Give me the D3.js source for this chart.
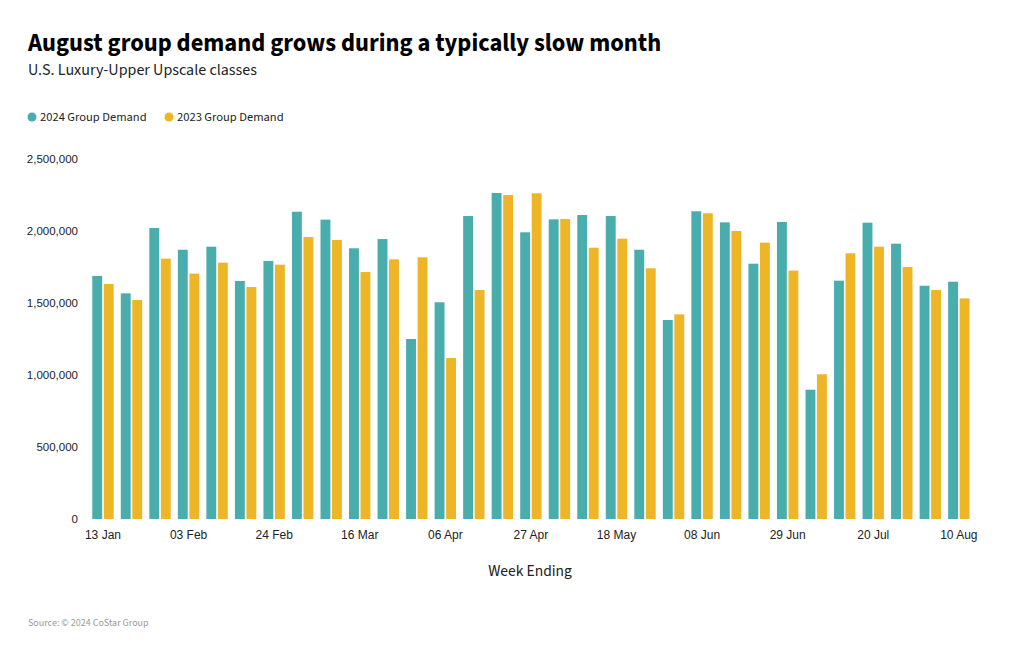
<!DOCTYPE html>
<html>
<head>
<meta charset="utf-8">
<script src="https://cdn.jsdelivr.net/npm/d3@7"></script>
<style>
  html, body { margin: 0; padding: 0; background: #fff; }
  svg { display: block; font-family: "Source Sans Pro", "Source Sans 3", Lato, "Open Sans", sans-serif; }
</style>
</head>
<body>
<svg id="chart" width="1020" height="650"></svg>
<script>
const weeks = ["13 Jan","20 Jan","27 Jan","03 Feb","10 Feb","17 Feb","24 Feb","02 Mar","09 Mar","16 Mar","23 Mar","30 Mar","06 Apr","13 Apr","20 Apr","27 Apr","04 May","11 May","18 May","25 May","01 Jun","08 Jun","15 Jun","22 Jun","29 Jun","06 Jul","13 Jul","20 Jul","27 Jul","03 Aug","10 Aug"];
const demand2024 = [1688000,1567000,2021000,1870000,1891000,1653000,1792000,2134000,2079000,1880000,1944000,1250000,1505000,2104000,2264000,1991000,2081000,2111000,2104000,1870000,1382000,2137000,2060000,1773000,2063000,898000,1655000,2058000,1912000,1620000,1648000];
const demand2023 = [1632000,1521000,1808000,1704000,1780000,1611000,1766000,1958000,1938000,1715000,1803000,1817000,1118000,1590000,2250000,2262000,2083000,1884000,1947000,1741000,1421000,2123000,2000000,1919000,1725000,1005000,1845000,1891000,1750000,1590000,1532000];
const seriesNames = ["2024 Group Demand","2023 Group Demand"];
const seriesColors = ["#4aadad","#eeb526"];
const yTicks = [0,500000,1000000,1500000,2000000,2500000];
const xTickLabels = ["13 Jan","03 Feb","24 Feb","16 Mar","06 Apr","27 Apr","18 May","08 Jun","29 Jun","20 Jul","10 Aug"];

const svg = d3.select("#chart");

svg.append("text").attr("x", 28).attr("y", 51)
  .attr("font-size", 24.5).attr("font-weight", 700).attr("fill", "#000")
  .text("August group demand grows during a typically slow month");
svg.append("text").attr("x", 28).attr("y", 75)
  .attr("font-size", 16).attr("fill", "#222")
  .text("U.S. Luxury-Upper Upscale classes");

// legend
const legend = svg.append("g");
const legX = [32, 169];
seriesNames.forEach((n, i) => {
  legend.append("circle").attr("cx", legX[i]).attr("cy", 117).attr("r", 4.5).attr("fill", seriesColors[i]);
  legend.append("text").attr("x", legX[i] + 8).attr("y", 121).attr("font-size", 12.5).attr("fill", "#222").text(n);
});

const x = d3.scaleBand().domain(weeks).range([88.7, 973.1]).paddingInner(0.25).paddingOuter(0.125);
const xs = d3.scaleBand().domain([0,1]).range([0, x.bandwidth()]).paddingInner(0.14);
const y = d3.scaleLinear().domain([0, 2500000]).range([519, 159]);

// y axis
const yAxis = svg.append("g").attr("transform", "translate(80,0)")
  .call(d3.axisLeft(y).tickValues(yTicks).tickFormat(d3.format(",")).tickSize(0).tickPadding(2));
yAxis.select(".domain").remove();
yAxis.selectAll("text").attr("font-size", 11.5).attr("fill", "#222").attr("font-family", null);

// bars
const data = weeks.map((w, i) => ({ w, vals: [demand2024[i], demand2023[i]] }));
const groups = svg.append("g").selectAll("g").data(data).join("g")
  .attr("transform", d => `translate(${x(d.w)},0)`);
groups.selectAll("rect").data(d => d.vals.map((v, k) => ({ v, k }))).join("rect")
  .attr("x", d => xs(d.k)).attr("width", xs.bandwidth())
  .attr("y", d => y(d.v)).attr("height", d => y(0) - y(d.v))
  .attr("fill", d => seriesColors[d.k]);

// x axis
const xAxis = svg.append("g").attr("transform", "translate(0,519)")
  .call(d3.axisBottom(x).tickValues(xTickLabels).tickSize(0).tickPadding(11));
xAxis.select(".domain").remove();
xAxis.selectAll("text").attr("font-size", 12).attr("fill", "#222").attr("font-family", null);

svg.append("text").attr("x", 530).attr("y", 576).attr("text-anchor", "middle")
  .attr("font-size", 15.5).attr("fill", "#222").text("Week Ending");

svg.append("text").attr("x", 28).attr("y", 626)
  .attr("font-size", 10).attr("fill", "#999").text("Source: © 2024 CoStar Group");
</script>
</body>
</html>
